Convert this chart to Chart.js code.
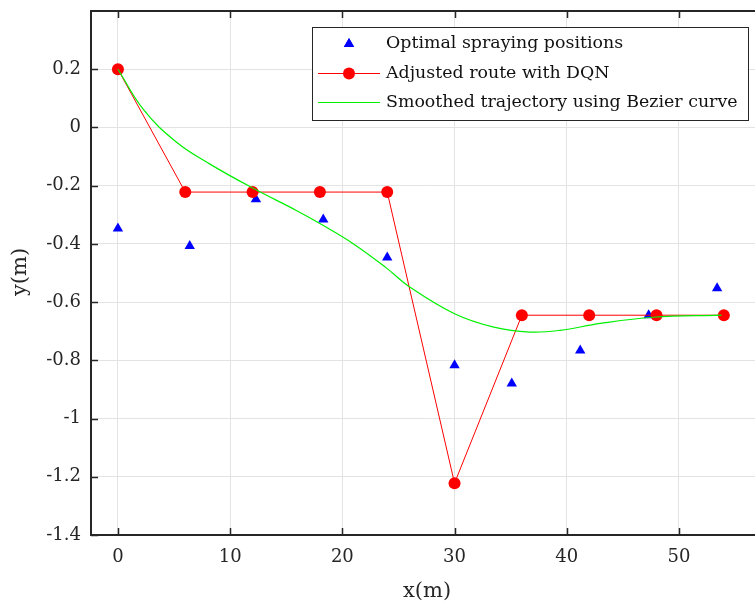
<!DOCTYPE html>
<html>
<head>
<meta charset="utf-8">
<script src="https://cdn.jsdelivr.net/npm/chart.js@4.4.1/dist/chart.umd.min.js"></script>
<style>
  html, body { margin: 0; padding: 0; background: #fff; overflow: hidden; }
  #wrap { width: 755px; height: 605px; overflow: hidden; }
</style>
</head>
<body>
<div id="wrap"><canvas id="routeChart" width="765" height="605"></canvas></div>
<script>
// optimal spraying positions (blue triangles)
var sprayX = [0, 6.4, 12.3, 18.3, 24.0, 30.0, 35.1, 41.2, 47.3, 53.4];
var sprayY = [-0.347, -0.407, -0.247, -0.316, -0.447, -0.817, -0.880, -0.766, -0.645, -0.552];

// adjusted route with DQN (red)
var routeX = [0, 6, 12, 18, 24, 30, 36, 42, 48, 54];
var routeY = [0.2, -0.222, -0.222, -0.222, -0.222, -1.222, -0.645, -0.645, -0.645, -0.645];

// smoothed trajectory (green)
var smoothX = [0, 2.3, 5.2, 8.2, 12.1, 15.9, 18.0, 21.0, 24.0, 26.0, 30.0, 33.5, 36.7, 39.4, 43.0, 47.7, 53.8];
var smoothY = [0.2, 0.06, -0.05, -0.126, -0.21, -0.285, -0.33, -0.40, -0.485, -0.548, -0.64, -0.686, -0.703, -0.697, -0.673, -0.652, -0.645];

var xTicks = [0, 10, 20, 30, 40, 50];
var yTicks = [-1.4, -1.2, -1, -0.8, -0.6, -0.4, -0.2, 0, 0.2];

var labels = ['Optimal spraying positions', 'Adjusted route with DQN', 'Smoothed trajectory using Bezier curve'];

function toPoints(xs, ys) {
    return xs.map(function (x, i) { return { x: x, y: ys[i] }; });
}

var FONT = '"DejaVu Serif", "Liberation Serif", serif';
var AXIS = '#262626';

// box, inner ticks, axis titles and legend drawn like the original figure
var matlabAxes = {
    id: 'matlabAxes',
    afterDraw: function (chart) {
        var ctx = chart.ctx;
        var a = chart.chartArea;
        var xs = chart.scales.x, ys = chart.scales.y;
        ctx.save();
        ctx.strokeStyle = AXIS;
        ctx.lineWidth = 2;
        ctx.beginPath();
        ctx.moveTo(a.right + 5, a.top);
        ctx.lineTo(a.left, a.top);
        ctx.lineTo(a.left, a.bottom);
        ctx.lineTo(a.right + 5, a.bottom);
        ctx.stroke();

        ctx.lineWidth = 1.5;
        ctx.beginPath();
        xTicks.forEach(function (v) {
            var px = Math.round(xs.getPixelForValue(v)) + 0.5;
            ctx.moveTo(px, a.bottom); ctx.lineTo(px, a.bottom - 7);
            ctx.moveTo(px, a.top); ctx.lineTo(px, a.top + 7);
        });
        yTicks.forEach(function (v) {
            var py = Math.round(ys.getPixelForValue(v)) + 0.5;
            ctx.moveTo(a.left, py); ctx.lineTo(a.left + 7, py);
        });
        ctx.stroke();

        // axis titles
        ctx.fillStyle = AXIS;
        ctx.font = '21px ' + FONT;
        ctx.textAlign = 'center';
        ctx.textBaseline = 'middle';
        ctx.fillText('x(m)', 427, 592);
        ctx.translate(21, 272);
        ctx.rotate(-Math.PI / 2);
        ctx.fillText('y(m)', 0, 0);
        ctx.restore();

        // legend
        ctx.save();
        var bx = 312.5, by = 27.5, bw = 436, bh = 93;
        ctx.fillStyle = '#fff';
        ctx.fillRect(bx, by, bw, bh);
        ctx.strokeStyle = AXIS;
        ctx.lineWidth = 1;
        ctx.strokeRect(bx, by, bw, bh);
        var rows = [43, 73, 102];
        var ds = chart.data.datasets;
        // triangle
        ctx.fillStyle = ds[0].backgroundColor;
        Chart.helpers.drawPoint(ctx, { pointStyle: 'triangle', radius: 6, borderWidth: 0 }, 349, rows[0] + 1);
        ctx.fill();
        // red line with marker
        ctx.strokeStyle = ds[1].borderColor;
        ctx.lineWidth = 1;
        ctx.beginPath(); ctx.moveTo(318, rows[1] + 0.5); ctx.lineTo(380, rows[1] + 0.5); ctx.stroke();
        ctx.fillStyle = ds[1].pointBackgroundColor;
        ctx.beginPath(); ctx.arc(349, rows[1] + 0.5, 6, 0, Math.PI * 2); ctx.fill();
        // green line
        ctx.strokeStyle = ds[2].borderColor;
        ctx.lineWidth = 1.2;
        ctx.beginPath(); ctx.moveTo(318, rows[2] + 0.5); ctx.lineTo(380, rows[2] + 0.5); ctx.stroke();

        ctx.fillStyle = '#111';
        ctx.font = '17.4px ' + FONT;
        ctx.textAlign = 'left';
        ctx.textBaseline = 'middle';
        labels.forEach(function (t, i) { ctx.fillText(t, 386, rows[i]); });
        ctx.restore();
    }
};

function noPad(s) {
    s.paddingTop = 0; s.paddingBottom = 0; s.paddingLeft = 0; s.paddingRight = 0;
}

var ctx = document.getElementById('routeChart').getContext('2d');
var chart = new Chart(ctx, {
    type: 'scatter',
    data: {
        datasets: [
            {
                label: labels[0],
                data: toPoints(sprayX, sprayY),
                pointStyle: 'triangle',
                pointRadius: 6,
                pointBorderWidth: 0,
                backgroundColor: '#0000ff',
                borderColor: '#0000ff',
                showLine: false,
                order: 3
            },
            {
                label: labels[1],
                data: toPoints(routeX, routeY),
                showLine: true,
                borderColor: '#ff0000',
                borderWidth: 1,
                pointRadius: 6,
                pointBorderWidth: 0,
                pointBackgroundColor: '#ff0000',
                backgroundColor: '#ff0000',
                order: 2
            },
            {
                label: labels[2],
                data: toPoints(smoothX, smoothY),
                showLine: true,
                borderColor: '#00f000',
                borderWidth: 1.2,
                pointRadius: 0,
                tension: 0.4,
                order: 1
            }
        ]
    },
    options: {
        responsive: false,
        animation: false,
        devicePixelRatio: 1,
        layout: { padding: { top: 11, right: 7.5, left: 0, bottom: 0 } },
        plugins: { legend: { display: false }, tooltip: { enabled: false } },
        scales: {
            x: {
                type: 'linear',
                min: -2.4,
                max: 57,
                afterFit: function (s) { s.height = 70; noPad(s); },
                afterBuildTicks: function (s) { s.ticks = xTicks.map(function (v) { return { value: v }; }); },
                grid: { color: '#e3e3e3', drawTicks: false },
                border: { display: false },
                ticks: {
                    padding: 12,
                    color: AXIS,
                    font: { family: FONT, size: 18 },
                    callback: function (v) { return String(v); }
                }
            },
            y: {
                type: 'linear',
                min: -1.4,
                max: 0.4,
                afterFit: function (s) { s.width = 91; noPad(s); },
                afterBuildTicks: function (s) { s.ticks = yTicks.map(function (v) { return { value: v }; }); },
                grid: { color: '#e3e3e3', drawTicks: false },
                border: { display: false },
                ticks: {
                    padding: 10,
                    color: AXIS,
                    font: { family: FONT, size: 18 },
                    callback: function (v) { return String(v); }
                }
            }
        }
    },
    plugins: [matlabAxes]
});
</script>
</body>
</html>
